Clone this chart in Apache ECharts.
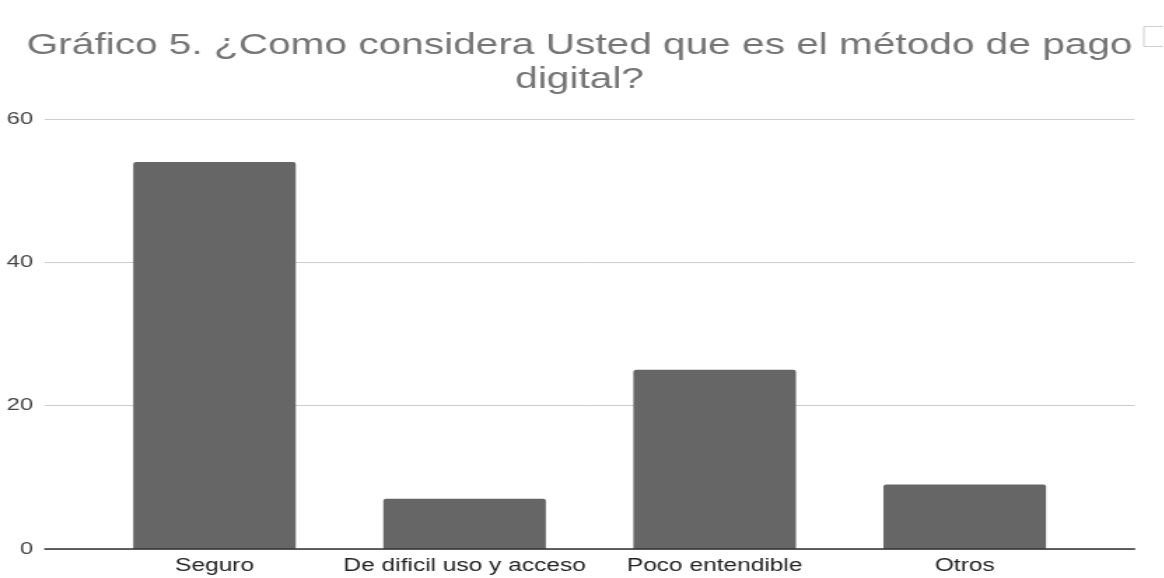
<!DOCTYPE html>
<html>
<head>
<meta charset="utf-8">
<script src="https://cdn.jsdelivr.net/npm/echarts@6/dist/echarts.min.js"></script>
<style>
  html, body { margin: 0; padding: 0; background: #fff; overflow: hidden; }
  /* the chart is laid out narrow and widened horizontally */
  #chart {
    width: 831.4px;
    height: 578px;
    transform: scaleX(1.4);
    transform-origin: 0 0;
  }
</style>
</head>
<body>
<div id="chart"></div>
<script>
// Survey answers: how respondents see digital payment
const categories = ['Seguro', 'De dificil uso y acceso', 'Poco entendible', 'Otros'];
const responses = [54, 7, 25, 9];
const yTicks = [0, 20, 40, 60];

const titleText = 'Gráfico 5. ¿Como considera Usted que es el método de pago\ndigital?';
const font = '"Liberation Sans", Arial, sans-serif';

const chart = echarts.init(document.getElementById('chart'), null, { renderer: 'canvas' });

chart.setOption({
  animation: false,
  backgroundColor: '#ffffff',
  title: {
    text: titleText,
    left: 409,
    top: 24,
    textAlign: 'center',
    textStyle: {
      fontFamily: font,
      fontSize: 29,
      fontWeight: 'normal',
      color: '#757575',
      lineHeight: 34
    }
  },
  grid: [
    // frame with gridlines and baseline
    { left: 32.1, right: 20.7, top: 119, bottom: 29 },
    // narrower band holding the bars
    { left: 63.9, right: 52.6, top: 119, bottom: 29 }
  ],
  xAxis: [
    {
      gridIndex: 0,
      type: 'category',
      data: [''],
      axisLine: { show: true, lineStyle: { color: '#333333', width: 1.5 } },
      axisTick: { show: false },
      axisLabel: { show: false },
      splitLine: { show: false },
      z: 5
    },
    {
      gridIndex: 1,
      type: 'category',
      data: categories,
      axisLine: { show: false },
      axisTick: { show: false },
      axisLabel: {
        fontFamily: font,
        fontSize: 17.5,
        color: '#222222',
        margin: 8,
        interval: 0
      }
    }
  ],
  yAxis: [
    {
      gridIndex: 0,
      type: 'value',
      min: yTicks[0],
      max: yTicks[yTicks.length - 1],
      interval: yTicks[1] - yTicks[0],
      axisLine: { show: false },
      axisTick: { show: false },
      axisLabel: {
        fontFamily: font,
        fontSize: 17,
        color: '#444444',
        margin: 8.5
      },
      splitLine: { show: true, lineStyle: { color: '#cccccc', width: 1 } }
    },
    {
      gridIndex: 1,
      type: 'value',
      min: yTicks[0],
      max: yTicks[yTicks.length - 1],
      interval: yTicks[1] - yTicks[0],
      show: false
    }
  ],
  series: [
    {
      type: 'bar',
      xAxisIndex: 1,
      yAxisIndex: 1,
      data: responses,
      barWidth: '65%',
      itemStyle: { color: '#666666', borderRadius: [2, 2, 0, 0] },
      z: 3
    }
  ],
  graphic: [
    {
      type: 'rect',
      left: 816.5,
      top: 26,
      shape: { width: 20, height: 20 },
      style: { fill: '#ffffff', stroke: '#d0d0d0', lineWidth: 1 }
    }
  ]
});
</script>
</body>
</html>
